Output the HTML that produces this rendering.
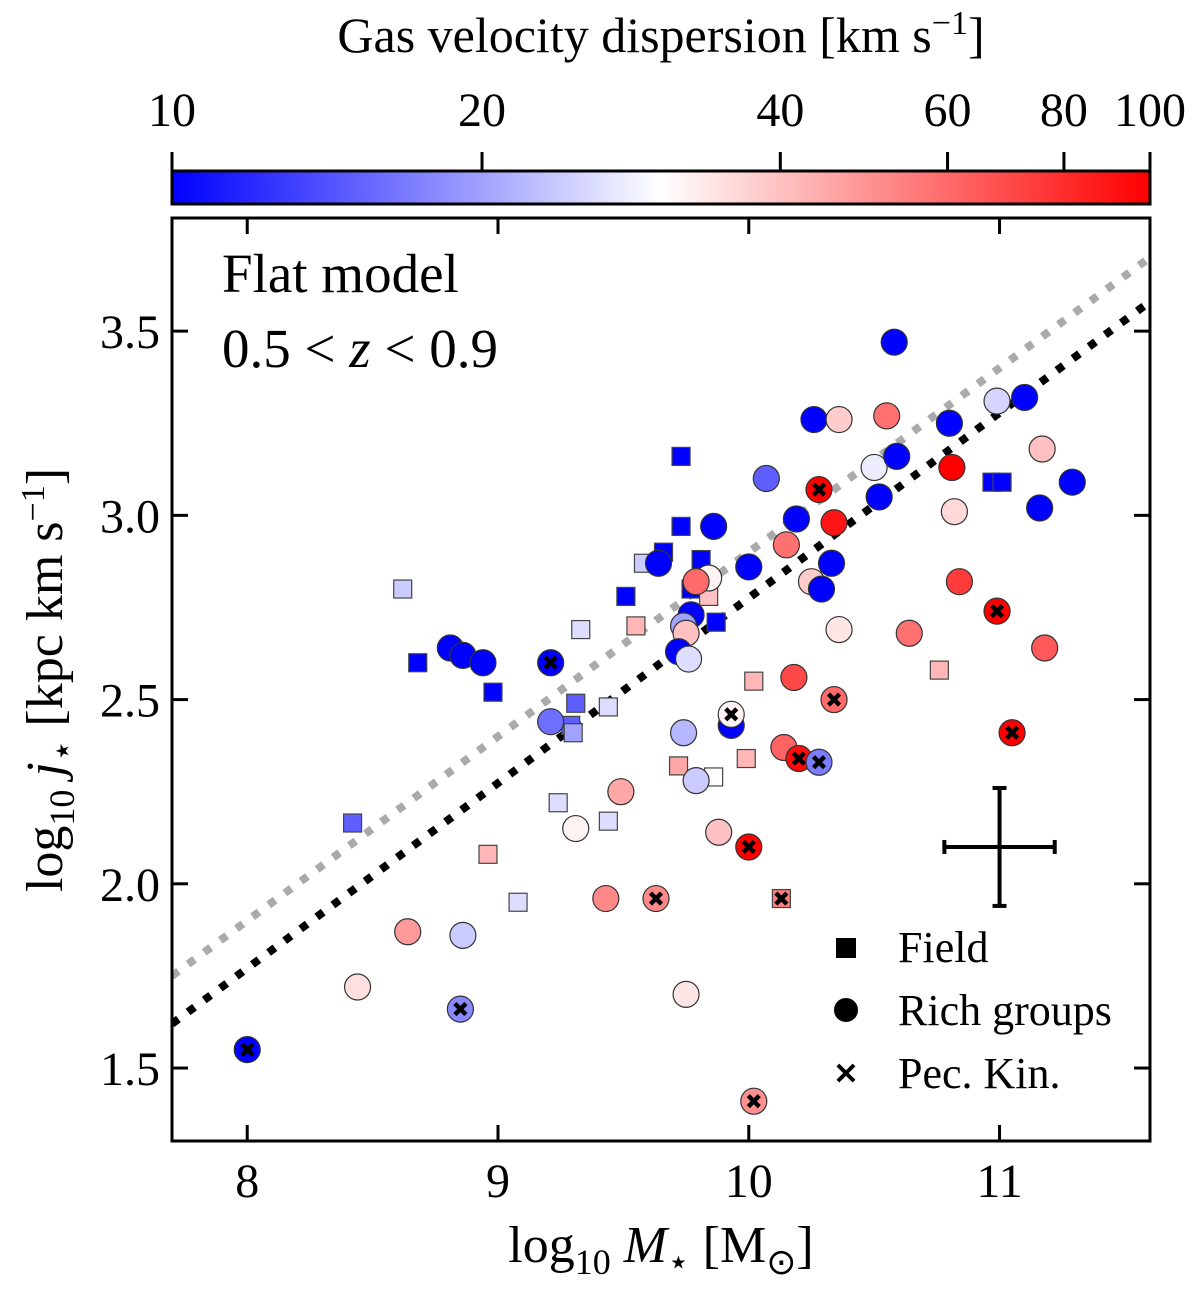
<!DOCTYPE html>
<html><head><meta charset="utf-8"><style>
html,body{margin:0;padding:0;background:#fff}
svg text{font-family:"Liberation Serif",serif;fill:#000}
</style></head><body>
<svg id="chart" width="1200" height="1286" viewBox="0 0 1200 1286" xmlns="http://www.w3.org/2000/svg">
<defs>
<linearGradient id="bwr" x1="0" x2="1" y1="0" y2="0">
<stop offset="0" stop-color="#0000ff"/><stop offset="0.5" stop-color="#ffffff"/><stop offset="1" stop-color="#ff0000"/>
</linearGradient>
<clipPath id="clip"><rect x="172" y="218" width="978" height="923"/></clipPath>
</defs>
<text x="661" y="52" font-size="50" text-anchor="middle">Gas velocity dispersion [km s<tspan dy="-18" font-size="34">−1</tspan><tspan dy="18">]</tspan></text>
<rect x="172" y="171" width="978" height="33" fill="url(#bwr)" stroke="#000" stroke-width="3"/>
<g id="cbticks"></g>
<g id="grid"></g>
<text x="222" y="292" font-size="55">Flat model</text>
<text x="222" y="367" font-size="55">0.5 &lt; <tspan font-style="italic">z</tspan> &lt; 0.9</text>
<text x="661" y="1262" font-size="52" text-anchor="middle">log<tspan dy="12" font-size="36">10</tspan><tspan dy="-12" font-style="italic"> M</tspan><tspan dy="12" font-size="36">⋆</tspan><tspan dy="-12"> [M</tspan><tspan dy="12" font-size="36">⊙</tspan><tspan dy="-12">]</tspan></text>
<text transform="translate(62,680) rotate(-90)" font-size="52" text-anchor="middle">log<tspan dy="12" font-size="36">10</tspan><tspan dy="-12" font-style="italic"> j</tspan><tspan dy="12" font-size="36">⋆</tspan><tspan dy="-12"> [kpc km s</tspan><tspan dy="-18" font-size="34">−1</tspan><tspan dy="18">]</tspan></text>
<g>
<rect x="836" y="938" width="20" height="20" fill="#000"/>
<text x="898" y="962" font-size="44">Field</text>
<circle cx="846" cy="1010" r="12" fill="#000"/>
<text x="898" y="1025" font-size="44">Rich groups</text>
<text x="846" y="1084" font-size="30" font-weight="bold" text-anchor="middle" font-family="Liberation Sans, sans-serif">✕</text>
<text x="898" y="1088" font-size="44">Pec. Kin.</text>
</g>
</svg>
<script>
const fieldX=[8.62,8.68,8.98,8.42,9.73,9.73,9.66,9.58,9.51,9.81,9.87,9.77,9.84,9.55,9.33,9.31,9.29,9.30,9.44,10.02,9.99,9.72,9.86,9.24,9.44,8.96,9.08,10.13,10.76,10.97,11.01];
const fieldY=[2.80,2.60,2.52,2.165,3.16,2.97,2.90,2.87,2.78,2.88,2.71,2.80,2.78,2.70,2.69,2.49,2.43,2.41,2.48,2.55,2.34,2.32,2.29,2.22,2.17,2.08,1.95,1.96,2.58,3.09,3.09];
const fieldSigma=[24,10,10,15,10,10,10,24,10,10,10,10,40,42,26,15,15,20,26,42,42,45,30,26,26,42,26,55,42,10,10];
const fieldPec=[0,0,0,0,0,0,0,0,0,0,0,0,0,0,0,0,0,0,0,0,0,0,0,0,0,0,0,1,0,0,0];
const groupX=[10.58,10.26,10.36,10.55,10.80,10.99,11.10,11.29,11.16,11.17,10.50,10.59,10.81,10.52,10.07,10.28,10.19,10.34,10.15,9.86,10.00,9.64,9.84,9.79,10.33,10.25,10.29,9.77,9.74,9.75,9.72,9.76,10.36,10.64,10.84,10.82,10.99,11.18,11.05,10.34,10.18,9.93,9.93,10.14,10.20,10.28,9.74,9.79,8.81,8.86,8.94,9.21,9.21,9.49,9.31,9.88,10.00,9.43,9.63,8.64,8.86,8.44,8.85,9.75,8.00,10.02];
const groupY=[3.47,3.26,3.26,3.27,3.25,3.31,3.32,3.09,3.02,3.18,3.13,3.16,3.13,3.05,3.10,3.07,2.99,2.98,2.92,2.97,2.86,2.87,2.83,2.82,2.87,2.82,2.80,2.73,2.70,2.68,2.63,2.61,2.69,2.68,2.82,3.01,2.74,2.64,2.41,2.50,2.56,2.43,2.46,2.37,2.34,2.33,2.41,2.28,2.64,2.62,2.60,2.60,2.44,2.25,2.15,2.14,2.10,1.96,1.96,1.87,1.86,1.72,1.66,1.70,1.55,1.41];
const groupSigma=[10,10,38,58,10,25,10,10,10,40,28,10,100,10,15,100,10,90,58,10,10,10,32,60,10,38,10,10,20,40,10,26,34,58,75,36,100,65,100,60,70,10,32,62,95,17,22,24,10,10,10,10,16,45,32,40,100,52,52,48,24,35,18,34,10,50];
const groupPec=[0,0,0,0,0,0,0,0,0,0,0,0,0,0,0,1,0,0,0,0,0,0,0,0,0,0,0,0,0,0,0,0,0,0,0,0,1,0,1,1,0,0,1,0,1,1,0,0,0,0,0,1,0,0,0,0,1,0,1,0,0,0,1,0,1,1];
const xTicks=[8,9,10,11];
const yTicks=[1.5,2.0,2.5,3.0,3.5];
const cbTicks=[10,20,40,60,80,100];
const cbTickPos=[0,0.317,0.622,0.793,0.912,1];
const fitLine=[[7.7,1.62],[11.6,3.58]];
const refLine=[[7.7,1.75],[11.6,3.70]];
const errBar={x:11.0,y:2.10,dx:0.22,dy:0.16};

const X0=172,X1=1150,Y0=218,Y1=1141;
const xmin=7.7,xmax=11.6,ymin=1.302,ymax=3.807;
const sx=v=>X0+(v-xmin)/(xmax-xmin)*(X1-X0);
const sy=v=>Y1-(v-ymin)/(ymax-ymin)*(Y1-Y0);
function cfrac(s){const l=Math.log10(s);for(let i=0;i<cbTicks.length-1;i++){const a=Math.log10(cbTicks[i]),b=Math.log10(cbTicks[i+1]);if(l<=b||i==cbTicks.length-2){let t=(l-a)/(b-a);return Math.max(0,Math.min(1,cbTickPos[i]+t*(cbTickPos[i+1]-cbTickPos[i])));}}return 1;}
function col(s){const t=cfrac(s);let r,g,b;if(t<0.5){r=g=Math.round(510*t);b=255;}else{r=255;g=b=Math.round(255*(2-2*t));}return `rgb(${r},${g},${b})`;}
const NS='http://www.w3.org/2000/svg';
function mk(tag,attrs,parent){const e=document.createElementNS(NS,tag);for(const k in attrs)e.setAttribute(k,attrs[k]);parent.appendChild(e);return e;}
const cb=document.getElementById('cbticks');
cbTicks.forEach((v,i)=>{const x=X0+cbTickPos[i]*(X1-X0);
 const t=mk('line',{x1:x,x2:x,y1:152,y2:171,stroke:'#000','stroke-width':3},cb);
 
 
 const lb=mk('text',{x:x,y:126,'font-size':48,'text-anchor':'middle'},cb);lb.textContent=v;
 
 
});
const g=document.getElementById('grid');
const pts=mk('g',{'clip-path':'url(#clip)'},g);
[refLine,fitLine].forEach((L,i)=>{const l=mk('line',{x1:sx(L[0][0]),y1:sy(L[0][1]),x2:sx(L[1][0]),y2:sy(L[1][1]),stroke:i?'#000':'#aaaaaa','stroke-width':8,'stroke-dasharray':'8 12'},pts);
 
 });
function cross(x,y,par){const p=mk('path',{d:`M${x-5.5},${y-5.5}L${x+5.5},${y+5.5}M${x-5.5},${y+5.5}L${x+5.5},${y-5.5}`,stroke:'#000','stroke-width':4.5},par);
 
 }
fieldX.forEach((v,i)=>{const x=sx(v),y=sy(fieldY[i]);
 const r=mk('rect',{x:x-9,y:y-9,width:18,height:18,fill:col(fieldSigma[i]),stroke:'#444','stroke-width':1.2},pts);
 
 
 if(fieldPec[i])cross(x,y,pts);});
groupX.forEach((v,i)=>{const x=sx(v),y=sy(groupY[i]);
 const c=mk('circle',{cx:x,cy:y,r:13,fill:col(groupSigma[i]),stroke:'#333','stroke-width':1.2},pts);
 
 
 if(groupPec[i])cross(x,y,pts);});
const eb=mk('g',{stroke:'#000','stroke-width':4},g);


const ex=sx(errBar.x),ey=sy(errBar.y),ex1=sx(errBar.x-errBar.dx),ex2=sx(errBar.x+errBar.dx),ey1=sy(errBar.y+errBar.dy),ey2=sy(errBar.y-errBar.dy);
mk('line',{x1:ex1,x2:ex2,y1:ey,y2:ey},eb);mk('line',{x1:ex,x2:ex,y1:ey1,y2:ey2},eb);
mk('line',{x1:ex1,x2:ex1,y1:ey-7,y2:ey+7},eb);mk('line',{x1:ex2,x2:ex2,y1:ey-7,y2:ey+7},eb);
mk('line',{x1:ex-7,x2:ex+7,y1:ey1,y2:ey1},eb);mk('line',{x1:ex-7,x2:ex+7,y1:ey2,y2:ey2},eb);
const fr=mk('rect',{x:X0,y:Y0,width:X1-X0,height:Y1-Y0,fill:'none',stroke:'#000','stroke-width':3},g);


xTicks.forEach(v=>{const x=sx(v);
 mk('line',{x1:x,x2:x,y1:Y1,y2:Y1-16,stroke:'#000','stroke-width':3},g);
 mk('line',{x1:x,x2:x,y1:Y0,y2:Y0+16,stroke:'#000','stroke-width':3},g);
 const t=mk('text',{x:x,y:1197,'font-size':48,'text-anchor':'middle'},g);t.textContent=v;
 
 });
yTicks.forEach(v=>{const y=sy(v);
 mk('line',{x1:X0,x2:X0+16,y1:y,y2:y,stroke:'#000','stroke-width':3},g);
 mk('line',{x1:X1,x2:X1-16,y1:y,y2:y,stroke:'#000','stroke-width':3},g);
 const t=mk('text',{x:160,y:y+17,'font-size':48,'text-anchor':'end'},g);t.textContent=v.toFixed(1);
 
 });
</script>
</body></html>
